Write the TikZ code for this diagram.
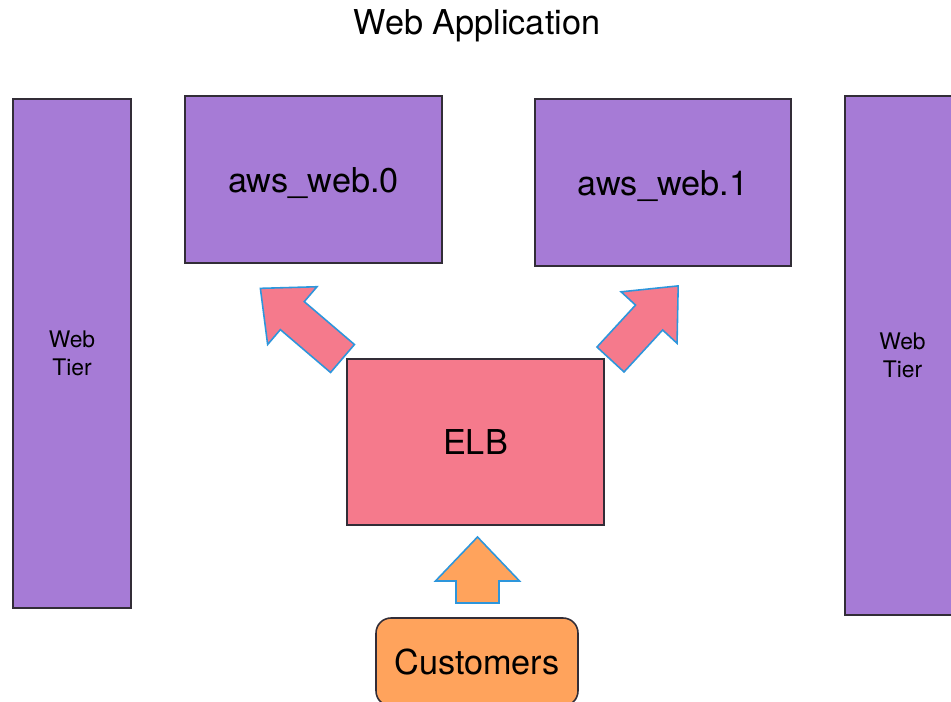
\documentclass[tikz,border=0pt]{standalone}
\usepackage{fontspec}
\setmainfont{TeX Gyre Heros}
\definecolor{tierpurple}{RGB}{166,123,214}
\definecolor{elbpink}{RGB}{245,122,140}
\definecolor{custorange}{RGB}{255,163,92}
\definecolor{edgeblue}{RGB}{45,150,220}
\definecolor{boxgray}{RGB}{50,45,55}
\tikzset{
  box/.style={draw=boxgray, line width=0.9pt, inner sep=0pt},
  tier/.style={box, fill=tierpurple, font=\fontsize{13}{16}\selectfont, align=center},
  server/.style={box, fill=tierpurple, font=\fontsize{19.5}{23}\selectfont, text height=14.6pt, text depth=0pt},
  arrowedge/.style={draw=edgeblue, line width=0.9pt, line join=miter},
}
% tail, angle, length, head length, shaft half width, head half width, colour
\newcommand{\blockarrow}[7]{%
  \begin{scope}[shift={#1}, rotate=#2]
    \draw[arrowedge, fill=#7] (0,-#5) -- ({#3-#4},-#5) -- ({#3-#4},-#6) -- (#3,0)
      -- ({#3-#4},#6) -- ({#3-#4},#5) -- (0,#5) -- cycle;
  \end{scope}}
\begin{document}
\begin{tikzpicture}[x=0.02cm, y=-0.02cm]
    \useasboundingbox (0,0) rectangle (951,702);
    \begin{scope}
        \clip (0,0) rectangle (951,702);
        \node[font=\fontsize{19.5}{23}\selectfont, anchor=base] (title) at (477,35) {Web Application};
        \node[tier, minimum width=2.36cm, minimum height=10.18cm] (tierL) at (72,353.5) {Web\\Tier};
        \node[tier, minimum width=2.3cm, minimum height=10.38cm] (tierR) at (902.5,355.5) {Web\\Tier};
        \node[server, minimum width=5.14cm, minimum height=3.34cm] (web0) at (313.5,179.5) {aws\_web.0};
        \node[server, minimum width=5.12cm, minimum height=3.34cm] (web1) at (663,182.5) {aws\_web.1};
        \node[server, fill=elbpink, minimum width=5.14cm, minimum height=3.32cm] (elb) at (475.5,442) {ELB};
        \node[server, fill=custorange, rounded corners=0.3cm, minimum width=4.04cm, minimum height=1.76cm] (cust) at (477,662) {Customers};
        \coordinate (toweb0) at (342.5,358.5);
        \coordinate (toweb1) at (610.5,359.5);
        \coordinate (toelb) at (477.5,603);
        \blockarrow{(toweb0)}{139.5}{108}{42}{18.4}{38}{elbpink}
        \blockarrow{(toweb1)}{47.4}{100}{43}{18.4}{38}{elbpink}
        \blockarrow{(toelb)}{90}{66}{44}{21.5}{42}{custorange}
    \end{scope}
\end{tikzpicture}
\end{document}
